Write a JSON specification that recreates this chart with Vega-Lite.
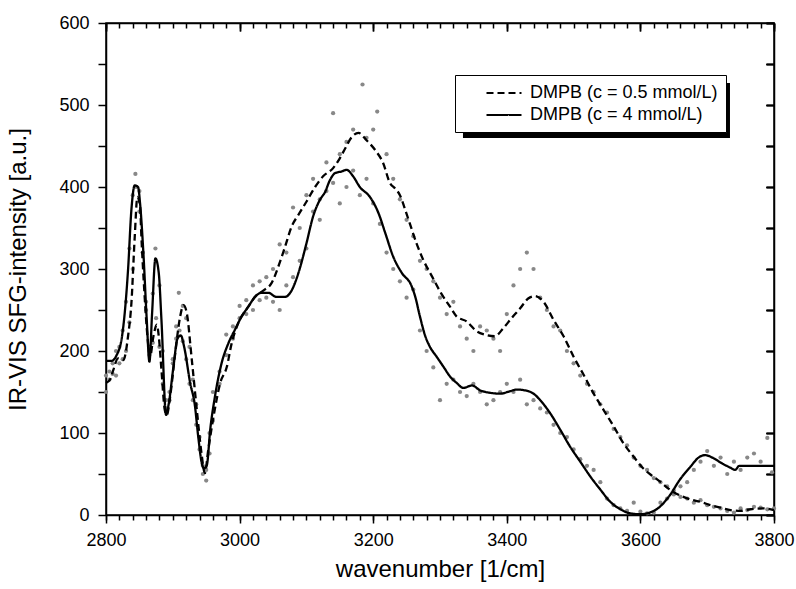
{
  "$schema": "https://vega.github.io/schema/vega-lite/v6.json",
  "width": 668,
  "height": 492,
  "autosize": {"type": "none"},
  "padding": {"left": 106, "top": 23, "right": 22, "bottom": 74},
  "background": "white",
  "config": {
    "view": {"stroke": "black", "strokeWidth": 1.5},
    "font": "Liberation Sans",
    "axis": {
      "domainColor": "black", "domainWidth": 1.5, "tickColor": "black", "tickWidth": 1.5,
      "labelFont": "Liberation Sans", "labelFontSize": 18, "labelColor": "black",
      "titleFont": "Liberation Sans", "titleFontSize": 24, "titleFontWeight": "normal", "titleColor": "black",
      "grid": false
    }
  },
  "data": {"values": [
      {"k":"L","x":2800,"y":188,"s":"4"},{"k":"L","x":2808,"y":188,"s":"4"},{"k":"L","x":2816,"y":195,"s":"4"},{"k":"L","x":2824,"y":218,"s":"4"},{"k":"L","x":2828,"y":246,"s":"4"},{"k":"L","x":2833,"y":299,"s":"4"},{"k":"L","x":2838,"y":372,"s":"4"},{"k":"L","x":2843,"y":402,"s":"4"},{"k":"L","x":2848,"y":400,"s":"4"},{"k":"L","x":2851,"y":380,"s":"4"},{"k":"L","x":2856,"y":319,"s":"4"},{"k":"L","x":2861,"y":238,"s":"4"},{"k":"L","x":2865,"y":187,"s":"4"},{"k":"L","x":2869,"y":246,"s":"4"},{"k":"L","x":2874,"y":313,"s":"4"},{"k":"L","x":2879,"y":295,"s":"4"},{"k":"L","x":2883,"y":238,"s":"4"},{"k":"L","x":2890,"y":122,"s":"4"},{"k":"L","x":2894,"y":136,"s":"4"},{"k":"L","x":2901,"y":181,"s":"4"},{"k":"L","x":2907,"y":215,"s":"4"},{"k":"L","x":2912,"y":219,"s":"4"},{"k":"L","x":2917,"y":205,"s":"4"},{"k":"L","x":2926,"y":161,"s":"4"},{"k":"L","x":2933,"y":134,"s":"4"},{"k":"L","x":2938,"y":96,"s":"4"},{"k":"L","x":2944,"y":61,"s":"4"},{"k":"L","x":2947,"y":57,"s":"4"},{"k":"L","x":2951,"y":61,"s":"4"},{"k":"L","x":2956,"y":104,"s":"4"},{"k":"L","x":2963,"y":144,"s":"4"},{"k":"L","x":2973,"y":185,"s":"4"},{"k":"L","x":2983,"y":209,"s":"4"},{"k":"L","x":2993,"y":226,"s":"4"},{"k":"L","x":3003,"y":242,"s":"4"},{"k":"L","x":3013,"y":254,"s":"4"},{"k":"L","x":3023,"y":266,"s":"4"},{"k":"L","x":3033,"y":271,"s":"4"},{"k":"L","x":3043,"y":271,"s":"4"},{"k":"L","x":3055,"y":266,"s":"4"},{"k":"L","x":3068,"y":266,"s":"4"},{"k":"L","x":3078,"y":274,"s":"4"},{"k":"L","x":3088,"y":295,"s":"4"},{"k":"L","x":3100,"y":331,"s":"4"},{"k":"L","x":3110,"y":364,"s":"4"},{"k":"L","x":3120,"y":384,"s":"4"},{"k":"L","x":3128,"y":394,"s":"4"},{"k":"L","x":3135,"y":408,"s":"4"},{"k":"L","x":3143,"y":417,"s":"4"},{"k":"L","x":3153,"y":419,"s":"4"},{"k":"L","x":3160,"y":421,"s":"4"},{"k":"L","x":3170,"y":413,"s":"4"},{"k":"L","x":3180,"y":400,"s":"4"},{"k":"L","x":3195,"y":388,"s":"4"},{"k":"L","x":3208,"y":368,"s":"4"},{"k":"L","x":3218,"y":344,"s":"4"},{"k":"L","x":3230,"y":315,"s":"4"},{"k":"L","x":3243,"y":295,"s":"4"},{"k":"L","x":3257,"y":280,"s":"4"},{"k":"L","x":3263,"y":266,"s":"4"},{"k":"L","x":3270,"y":242,"s":"4"},{"k":"L","x":3278,"y":218,"s":"4"},{"k":"L","x":3285,"y":205,"s":"4"},{"k":"L","x":3295,"y":193,"s":"4"},{"k":"L","x":3305,"y":181,"s":"4"},{"k":"L","x":3315,"y":169,"s":"4"},{"k":"L","x":3325,"y":161,"s":"4"},{"k":"L","x":3335,"y":155,"s":"4"},{"k":"L","x":3348,"y":158,"s":"4"},{"k":"L","x":3360,"y":152,"s":"4"},{"k":"L","x":3375,"y":149,"s":"4"},{"k":"L","x":3390,"y":148,"s":"4"},{"k":"L","x":3405,"y":151,"s":"4"},{"k":"L","x":3415,"y":153,"s":"4"},{"k":"L","x":3427,"y":152,"s":"4"},{"k":"L","x":3440,"y":148,"s":"4"},{"k":"L","x":3450,"y":140,"s":"4"},{"k":"L","x":3465,"y":124,"s":"4"},{"k":"L","x":3480,"y":104,"s":"4"},{"k":"L","x":3495,"y":83,"s":"4"},{"k":"L","x":3510,"y":65,"s":"4"},{"k":"L","x":3525,"y":47,"s":"4"},{"k":"L","x":3540,"y":31,"s":"4"},{"k":"L","x":3555,"y":16,"s":"4"},{"k":"L","x":3570,"y":7,"s":"4"},{"k":"L","x":3585,"y":2,"s":"4"},{"k":"L","x":3600,"y":1,"s":"4"},{"k":"L","x":3614,"y":3,"s":"4"},{"k":"L","x":3629,"y":10,"s":"4"},{"k":"L","x":3644,"y":24,"s":"4"},{"k":"L","x":3659,"y":43,"s":"4"},{"k":"L","x":3675,"y":59,"s":"4"},{"k":"L","x":3687,"y":70,"s":"4"},{"k":"L","x":3697,"y":73,"s":"4"},{"k":"L","x":3710,"y":69,"s":"4"},{"k":"L","x":3722,"y":63,"s":"4"},{"k":"L","x":3734,"y":58,"s":"4"},{"k":"L","x":3742,"y":55,"s":"4"},{"k":"L","x":3748,"y":60,"s":"4"},{"k":"L","x":3764,"y":60,"s":"4"},{"k":"L","x":3800,"y":60,"s":"4"},
      {"k":"L","x":2800,"y":161,"s":"0.5"},{"k":"L","x":2806,"y":165,"s":"0.5"},{"k":"L","x":2811,"y":177,"s":"0.5"},{"k":"L","x":2818,"y":191,"s":"0.5"},{"k":"L","x":2826,"y":189,"s":"0.5"},{"k":"L","x":2833,"y":218,"s":"0.5"},{"k":"L","x":2838,"y":258,"s":"0.5"},{"k":"L","x":2843,"y":339,"s":"0.5"},{"k":"L","x":2847,"y":388,"s":"0.5"},{"k":"L","x":2851,"y":376,"s":"0.5"},{"k":"L","x":2853,"y":339,"s":"0.5"},{"k":"L","x":2857,"y":278,"s":"0.5"},{"k":"L","x":2862,"y":218,"s":"0.5"},{"k":"L","x":2866,"y":193,"s":"0.5"},{"k":"L","x":2871,"y":218,"s":"0.5"},{"k":"L","x":2876,"y":232,"s":"0.5"},{"k":"L","x":2879,"y":218,"s":"0.5"},{"k":"L","x":2883,"y":177,"s":"0.5"},{"k":"L","x":2888,"y":128,"s":"0.5"},{"k":"L","x":2891,"y":122,"s":"0.5"},{"k":"L","x":2896,"y":144,"s":"0.5"},{"k":"L","x":2903,"y":193,"s":"0.5"},{"k":"L","x":2911,"y":242,"s":"0.5"},{"k":"L","x":2916,"y":256,"s":"0.5"},{"k":"L","x":2921,"y":246,"s":"0.5"},{"k":"L","x":2928,"y":193,"s":"0.5"},{"k":"L","x":2936,"y":128,"s":"0.5"},{"k":"L","x":2943,"y":75,"s":"0.5"},{"k":"L","x":2948,"y":51,"s":"0.5"},{"k":"L","x":2953,"y":79,"s":"0.5"},{"k":"L","x":2961,"y":120,"s":"0.5"},{"k":"L","x":2971,"y":161,"s":"0.5"},{"k":"L","x":2981,"y":181,"s":"0.5"},{"k":"L","x":2988,"y":209,"s":"0.5"},{"k":"L","x":2998,"y":234,"s":"0.5"},{"k":"L","x":3013,"y":254,"s":"0.5"},{"k":"L","x":3023,"y":266,"s":"0.5"},{"k":"L","x":3036,"y":274,"s":"0.5"},{"k":"L","x":3048,"y":283,"s":"0.5"},{"k":"L","x":3058,"y":303,"s":"0.5"},{"k":"L","x":3068,"y":327,"s":"0.5"},{"k":"L","x":3078,"y":352,"s":"0.5"},{"k":"L","x":3088,"y":366,"s":"0.5"},{"k":"L","x":3100,"y":382,"s":"0.5"},{"k":"L","x":3113,"y":400,"s":"0.5"},{"k":"L","x":3125,"y":413,"s":"0.5"},{"k":"L","x":3140,"y":423,"s":"0.5"},{"k":"L","x":3150,"y":435,"s":"0.5"},{"k":"L","x":3158,"y":447,"s":"0.5"},{"k":"L","x":3168,"y":461,"s":"0.5"},{"k":"L","x":3178,"y":466,"s":"0.5"},{"k":"L","x":3190,"y":457,"s":"0.5"},{"k":"L","x":3203,"y":445,"s":"0.5"},{"k":"L","x":3215,"y":429,"s":"0.5"},{"k":"L","x":3225,"y":405,"s":"0.5"},{"k":"L","x":3233,"y":398,"s":"0.5"},{"k":"L","x":3240,"y":390,"s":"0.5"},{"k":"L","x":3248,"y":372,"s":"0.5"},{"k":"L","x":3255,"y":355,"s":"0.5"},{"k":"L","x":3265,"y":331,"s":"0.5"},{"k":"L","x":3275,"y":311,"s":"0.5"},{"k":"L","x":3288,"y":291,"s":"0.5"},{"k":"L","x":3302,"y":270,"s":"0.5"},{"k":"L","x":3315,"y":254,"s":"0.5"},{"k":"L","x":3325,"y":242,"s":"0.5"},{"k":"L","x":3340,"y":236,"s":"0.5"},{"k":"L","x":3355,"y":224,"s":"0.5"},{"k":"L","x":3367,"y":220,"s":"0.5"},{"k":"L","x":3382,"y":218,"s":"0.5"},{"k":"L","x":3395,"y":228,"s":"0.5"},{"k":"L","x":3407,"y":240,"s":"0.5"},{"k":"L","x":3420,"y":252,"s":"0.5"},{"k":"L","x":3432,"y":264,"s":"0.5"},{"k":"L","x":3442,"y":267,"s":"0.5"},{"k":"L","x":3455,"y":260,"s":"0.5"},{"k":"L","x":3470,"y":238,"s":"0.5"},{"k":"L","x":3485,"y":218,"s":"0.5"},{"k":"L","x":3500,"y":193,"s":"0.5"},{"k":"L","x":3515,"y":171,"s":"0.5"},{"k":"L","x":3530,"y":148,"s":"0.5"},{"k":"L","x":3545,"y":128,"s":"0.5"},{"k":"L","x":3560,"y":108,"s":"0.5"},{"k":"L","x":3575,"y":87,"s":"0.5"},{"k":"L","x":3590,"y":71,"s":"0.5"},{"k":"L","x":3604,"y":57,"s":"0.5"},{"k":"L","x":3619,"y":47,"s":"0.5"},{"k":"L","x":3629,"y":41,"s":"0.5"},{"k":"L","x":3644,"y":31,"s":"0.5"},{"k":"L","x":3659,"y":24,"s":"0.5"},{"k":"L","x":3675,"y":19,"s":"0.5"},{"k":"L","x":3690,"y":16,"s":"0.5"},{"k":"L","x":3705,"y":12,"s":"0.5"},{"k":"L","x":3720,"y":9,"s":"0.5"},{"k":"L","x":3735,"y":6,"s":"0.5"},{"k":"L","x":3750,"y":5,"s":"0.5"},{"k":"L","x":3765,"y":7,"s":"0.5"},{"k":"L","x":3784,"y":8,"s":"0.5"},{"k":"L","x":3800,"y":6,"s":"0.5"},
      {"k":"P","x":2800,"y":150,"s":"0.5"},{"k":"P","x":2805,"y":165,"s":"0.5"},{"k":"P","x":2810,"y":172,"s":"0.5"},{"k":"P","x":2815,"y":170,"s":"0.5"},{"k":"P","x":2820,"y":185,"s":"0.5"},{"k":"P","x":2825,"y":190,"s":"0.5"},{"k":"P","x":2830,"y":200,"s":"0.5"},{"k":"P","x":2835,"y":235,"s":"0.5"},{"k":"P","x":2840,"y":300,"s":"0.5"},{"k":"P","x":2844,"y":416,"s":"0.5"},{"k":"P","x":2850,"y":370,"s":"0.5"},{"k":"P","x":2855,"y":320,"s":"0.5"},{"k":"P","x":2860,"y":250,"s":"0.5"},{"k":"P","x":2865,"y":195,"s":"0.5"},{"k":"P","x":2870,"y":210,"s":"0.5"},{"k":"P","x":2875,"y":240,"s":"0.5"},{"k":"P","x":2880,"y":205,"s":"0.5"},{"k":"P","x":2885,"y":160,"s":"0.5"},{"k":"P","x":2890,"y":140,"s":"0.5"},{"k":"P","x":2895,"y":150,"s":"0.5"},{"k":"P","x":2900,"y":185,"s":"0.5"},{"k":"P","x":2905,"y":230,"s":"0.5"},{"k":"P","x":2909,"y":271,"s":"0.5"},{"k":"P","x":2915,"y":255,"s":"0.5"},{"k":"P","x":2920,"y":240,"s":"0.5"},{"k":"P","x":2925,"y":205,"s":"0.5"},{"k":"P","x":2930,"y":165,"s":"0.5"},{"k":"P","x":2935,"y":135,"s":"0.5"},{"k":"P","x":2940,"y":95,"s":"0.5"},{"k":"P","x":2945,"y":60,"s":"0.5"},{"k":"P","x":2950,"y":42,"s":"0.5"},{"k":"P","x":2955,"y":75,"s":"0.5"},{"k":"P","x":2960,"y":115,"s":"0.5"},{"k":"P","x":2970,"y":160,"s":"0.5"},{"k":"P","x":2980,"y":195,"s":"0.5"},{"k":"P","x":2990,"y":215,"s":"0.5"},{"k":"P","x":3000,"y":240,"s":"0.5"},{"k":"P","x":3010,"y":262,"s":"0.5"},{"k":"P","x":3020,"y":250,"s":"0.5"},{"k":"P","x":3030,"y":285,"s":"0.5"},{"k":"P","x":3040,"y":265,"s":"0.5"},{"k":"P","x":3050,"y":300,"s":"0.5"},{"k":"P","x":3060,"y":330,"s":"0.5"},{"k":"P","x":3070,"y":320,"s":"0.5"},{"k":"P","x":3080,"y":375,"s":"0.5"},{"k":"P","x":3090,"y":350,"s":"0.5"},{"k":"P","x":3100,"y":390,"s":"0.5"},{"k":"P","x":3110,"y":410,"s":"0.5"},{"k":"P","x":3120,"y":385,"s":"0.5"},{"k":"P","x":3130,"y":430,"s":"0.5"},{"k":"P","x":3140,"y":490,"s":"0.5"},{"k":"P","x":3150,"y":440,"s":"0.5"},{"k":"P","x":3160,"y":455,"s":"0.5"},{"k":"P","x":3170,"y":470,"s":"0.5"},{"k":"P","x":3184,"y":525,"s":"0.5"},{"k":"P","x":3190,"y":460,"s":"0.5"},{"k":"P","x":3200,"y":470,"s":"0.5"},{"k":"P","x":3206,"y":492,"s":"0.5"},{"k":"P","x":3220,"y":440,"s":"0.5"},{"k":"P","x":3230,"y":410,"s":"0.5"},{"k":"P","x":3240,"y":385,"s":"0.5"},{"k":"P","x":3250,"y":360,"s":"0.5"},{"k":"P","x":3260,"y":340,"s":"0.5"},{"k":"P","x":3270,"y":310,"s":"0.5"},{"k":"P","x":3280,"y":300,"s":"0.5"},{"k":"P","x":3290,"y":285,"s":"0.5"},{"k":"P","x":3300,"y":265,"s":"0.5"},{"k":"P","x":3310,"y":245,"s":"0.5"},{"k":"P","x":3320,"y":260,"s":"0.5"},{"k":"P","x":3330,"y":230,"s":"0.5"},{"k":"P","x":3340,"y":215,"s":"0.5"},{"k":"P","x":3350,"y":200,"s":"0.5"},{"k":"P","x":3360,"y":230,"s":"0.5"},{"k":"P","x":3370,"y":225,"s":"0.5"},{"k":"P","x":3380,"y":215,"s":"0.5"},{"k":"P","x":3390,"y":200,"s":"0.5"},{"k":"P","x":3400,"y":245,"s":"0.5"},{"k":"P","x":3410,"y":280,"s":"0.5"},{"k":"P","x":3420,"y":300,"s":"0.5"},{"k":"P","x":3430,"y":320,"s":"0.5"},{"k":"P","x":3440,"y":300,"s":"0.5"},{"k":"P","x":3450,"y":265,"s":"0.5"},{"k":"P","x":3460,"y":250,"s":"0.5"},{"k":"P","x":3470,"y":230,"s":"0.5"},{"k":"P","x":3480,"y":225,"s":"0.5"},{"k":"P","x":3490,"y":200,"s":"0.5"},{"k":"P","x":3500,"y":185,"s":"0.5"},{"k":"P","x":3510,"y":170,"s":"0.5"},{"k":"P","x":3520,"y":160,"s":"0.5"},{"k":"P","x":3530,"y":150,"s":"0.5"},{"k":"P","x":3540,"y":135,"s":"0.5"},{"k":"P","x":3550,"y":125,"s":"0.5"},{"k":"P","x":3560,"y":105,"s":"0.5"},{"k":"P","x":3570,"y":95,"s":"0.5"},{"k":"P","x":3580,"y":85,"s":"0.5"},{"k":"P","x":3590,"y":70,"s":"0.5"},{"k":"P","x":3600,"y":60,"s":"0.5"},{"k":"P","x":3610,"y":55,"s":"0.5"},{"k":"P","x":3620,"y":45,"s":"0.5"},{"k":"P","x":3630,"y":40,"s":"0.5"},{"k":"P","x":3640,"y":35,"s":"0.5"},{"k":"P","x":3650,"y":25,"s":"0.5"},{"k":"P","x":3660,"y":22,"s":"0.5"},{"k":"P","x":3670,"y":20,"s":"0.5"},{"k":"P","x":3680,"y":15,"s":"0.5"},{"k":"P","x":3690,"y":18,"s":"0.5"},{"k":"P","x":3700,"y":12,"s":"0.5"},{"k":"P","x":3710,"y":10,"s":"0.5"},{"k":"P","x":3720,"y":8,"s":"0.5"},{"k":"P","x":3730,"y":5,"s":"0.5"},{"k":"P","x":3740,"y":3,"s":"0.5"},{"k":"P","x":3750,"y":8,"s":"0.5"},{"k":"P","x":3760,"y":6,"s":"0.5"},{"k":"P","x":3770,"y":10,"s":"0.5"},{"k":"P","x":3780,"y":9,"s":"0.5"},{"k":"P","x":3790,"y":7,"s":"0.5"},{"k":"P","x":3800,"y":8,"s":"0.5"},
      {"k":"P","x":2800,"y":170,"s":"4"},{"k":"P","x":2805,"y":175,"s":"4"},{"k":"P","x":2810,"y":185,"s":"4"},{"k":"P","x":2815,"y":200,"s":"4"},{"k":"P","x":2820,"y":205,"s":"4"},{"k":"P","x":2825,"y":225,"s":"4"},{"k":"P","x":2830,"y":260,"s":"4"},{"k":"P","x":2835,"y":325,"s":"4"},{"k":"P","x":2840,"y":390,"s":"4"},{"k":"P","x":2845,"y":400,"s":"4"},{"k":"P","x":2850,"y":395,"s":"4"},{"k":"P","x":2855,"y":320,"s":"4"},{"k":"P","x":2860,"y":260,"s":"4"},{"k":"P","x":2865,"y":205,"s":"4"},{"k":"P","x":2870,"y":270,"s":"4"},{"k":"P","x":2874,"y":325,"s":"4"},{"k":"P","x":2880,"y":280,"s":"4"},{"k":"P","x":2885,"y":200,"s":"4"},{"k":"P","x":2890,"y":130,"s":"4"},{"k":"P","x":2895,"y":140,"s":"4"},{"k":"P","x":2900,"y":190,"s":"4"},{"k":"P","x":2905,"y":215,"s":"4"},{"k":"P","x":2910,"y":225,"s":"4"},{"k":"P","x":2915,"y":212,"s":"4"},{"k":"P","x":2920,"y":190,"s":"4"},{"k":"P","x":2925,"y":160,"s":"4"},{"k":"P","x":2930,"y":140,"s":"4"},{"k":"P","x":2935,"y":110,"s":"4"},{"k":"P","x":2940,"y":80,"s":"4"},{"k":"P","x":2945,"y":50,"s":"4"},{"k":"P","x":2950,"y":55,"s":"4"},{"k":"P","x":2955,"y":100,"s":"4"},{"k":"P","x":2960,"y":150,"s":"4"},{"k":"P","x":2970,"y":175,"s":"4"},{"k":"P","x":2980,"y":220,"s":"4"},{"k":"P","x":2990,"y":230,"s":"4"},{"k":"P","x":3000,"y":255,"s":"4"},{"k":"P","x":3010,"y":245,"s":"4"},{"k":"P","x":3020,"y":280,"s":"4"},{"k":"P","x":3030,"y":262,"s":"4"},{"k":"P","x":3040,"y":290,"s":"4"},{"k":"P","x":3050,"y":260,"s":"4"},{"k":"P","x":3060,"y":250,"s":"4"},{"k":"P","x":3070,"y":280,"s":"4"},{"k":"P","x":3080,"y":290,"s":"4"},{"k":"P","x":3090,"y":310,"s":"4"},{"k":"P","x":3100,"y":325,"s":"4"},{"k":"P","x":3110,"y":370,"s":"4"},{"k":"P","x":3120,"y":360,"s":"4"},{"k":"P","x":3130,"y":395,"s":"4"},{"k":"P","x":3140,"y":405,"s":"4"},{"k":"P","x":3150,"y":380,"s":"4"},{"k":"P","x":3160,"y":400,"s":"4"},{"k":"P","x":3170,"y":420,"s":"4"},{"k":"P","x":3180,"y":390,"s":"4"},{"k":"P","x":3190,"y":410,"s":"4"},{"k":"P","x":3200,"y":380,"s":"4"},{"k":"P","x":3210,"y":355,"s":"4"},{"k":"P","x":3220,"y":320,"s":"4"},{"k":"P","x":3230,"y":300,"s":"4"},{"k":"P","x":3240,"y":285,"s":"4"},{"k":"P","x":3250,"y":265,"s":"4"},{"k":"P","x":3260,"y":275,"s":"4"},{"k":"P","x":3270,"y":225,"s":"4"},{"k":"P","x":3280,"y":200,"s":"4"},{"k":"P","x":3290,"y":180,"s":"4"},{"k":"P","x":3300,"y":140,"s":"4"},{"k":"P","x":3310,"y":160,"s":"4"},{"k":"P","x":3320,"y":165,"s":"4"},{"k":"P","x":3330,"y":150,"s":"4"},{"k":"P","x":3340,"y":145,"s":"4"},{"k":"P","x":3350,"y":160,"s":"4"},{"k":"P","x":3360,"y":150,"s":"4"},{"k":"P","x":3370,"y":135,"s":"4"},{"k":"P","x":3380,"y":140,"s":"4"},{"k":"P","x":3390,"y":150,"s":"4"},{"k":"P","x":3400,"y":160,"s":"4"},{"k":"P","x":3410,"y":150,"s":"4"},{"k":"P","x":3420,"y":165,"s":"4"},{"k":"P","x":3430,"y":135,"s":"4"},{"k":"P","x":3440,"y":140,"s":"4"},{"k":"P","x":3450,"y":130,"s":"4"},{"k":"P","x":3460,"y":125,"s":"4"},{"k":"P","x":3470,"y":110,"s":"4"},{"k":"P","x":3480,"y":100,"s":"4"},{"k":"P","x":3490,"y":95,"s":"4"},{"k":"P","x":3500,"y":80,"s":"4"},{"k":"P","x":3510,"y":68,"s":"4"},{"k":"P","x":3520,"y":60,"s":"4"},{"k":"P","x":3530,"y":55,"s":"4"},{"k":"P","x":3540,"y":40,"s":"4"},{"k":"P","x":3550,"y":20,"s":"4"},{"k":"P","x":3560,"y":12,"s":"4"},{"k":"P","x":3570,"y":8,"s":"4"},{"k":"P","x":3580,"y":5,"s":"4"},{"k":"P","x":3590,"y":15,"s":"4"},{"k":"P","x":3600,"y":4,"s":"4"},{"k":"P","x":3610,"y":2,"s":"4"},{"k":"P","x":3620,"y":3,"s":"4"},{"k":"P","x":3630,"y":15,"s":"4"},{"k":"P","x":3640,"y":20,"s":"4"},{"k":"P","x":3650,"y":30,"s":"4"},{"k":"P","x":3660,"y":35,"s":"4"},{"k":"P","x":3670,"y":40,"s":"4"},{"k":"P","x":3680,"y":55,"s":"4"},{"k":"P","x":3690,"y":65,"s":"4"},{"k":"P","x":3700,"y":78,"s":"4"},{"k":"P","x":3710,"y":60,"s":"4"},{"k":"P","x":3720,"y":70,"s":"4"},{"k":"P","x":3730,"y":50,"s":"4"},{"k":"P","x":3740,"y":65,"s":"4"},{"k":"P","x":3750,"y":55,"s":"4"},{"k":"P","x":3760,"y":70,"s":"4"},{"k":"P","x":3770,"y":75,"s":"4"},{"k":"P","x":3780,"y":65,"s":"4"},{"k":"P","x":3790,"y":94,"s":"4"},{"k":"P","x":3797,"y":52,"s":"4"}
  ]},
  "layer": [
    {
      "transform": [{"filter": "datum.k === 'P'"}],
      "mark": {"type": "point", "filled": true, "color": "#888888", "opacity": 1, "size": 18},
      "encoding": {
        "x": {"field": "x", "type": "quantitative",
          "scale": {"domain": [2800, 3800], "nice": false, "zero": false},
          "axis": {"orient": "bottom", "title": "wavenumber [1/cm]",
            "values": [2800, 3000, 3200, 3400, 3600, 3800], "format": "d",
            "tickSize": 8, "labelPadding": 8, "labelFlush": false, "labelOverlap": false, "titlePadding": 8}},
        "y": {"field": "y", "type": "quantitative",
          "scale": {"domain": [0, 600], "nice": false},
          "axis": {"orient": "left", "title": "IR-VIS SFG-intensity [a.u.]",
            "values": [0,50,100,150,200,250,300,350,400,450,500,550,600],
            "labelExpr": "datum.value % 100 === 0 ? datum.label : ''",
            "tickSize": 8, "labelPadding": 9, "labelOverlap": false, "titlePadding": 28}}
      }
    },
    {
      "transform": [{"filter": "datum.k === 'P'"}],
      "mark": {"type": "point", "opacity": 0},
      "encoding": {
        "x": {"field": "x", "type": "quantitative", "title": "",
          "axis": {"orient": "bottom", "labelExpr": "''", "domain": false,
            "values": [2800,2820,2840,2860,2880,2900,2920,2940,2960,2980,3000,3020,3040,3060,3080,3100,3120,3140,3160,3180,3200,3220,3240,3260,3280,3300,3320,3340,3360,3380,3400,3420,3440,3460,3480,3500,3520,3540,3560,3580,3600,3620,3640,3660,3680,3700,3720,3740,3760,3780,3800],
            "tickSize": 5}},
        "y": {"field": "y", "type": "quantitative", "title": "",
          "axis": {"orient": "right", "labelExpr": "''",
            "values": [0,50,100,150,200,250,300,350,400,450,500,550,600], "tickSize": -8}}
      }
    },
    {
      "transform": [{"filter": "datum.k === 'P'"}],
      "mark": {"type": "point", "opacity": 0},
      "encoding": {
        "x": {"field": "x", "type": "quantitative", "title": "",
          "axis": {"orient": "top", "labelExpr": "''", "domain": false,
            "values": [2800,2820,2840,2860,2880,2900,2920,2940,2960,2980,3000,3020,3040,3060,3080,3100,3120,3140,3160,3180,3200,3220,3240,3260,3280,3300,3320,3340,3360,3380,3400,3420,3440,3460,3480,3500,3520,3540,3560,3580,3600,3620,3640,3660,3680,3700,3720,3740,3760,3780,3800],
            "tickSize": -5}},
        "y": {"field": "y", "type": "quantitative", "title": "",
          "axis": {"orient": "right", "labelExpr": "''", "domain": false,
            "values": [0,50,100,150,200,250,300,350,400,450,500,550,600], "tickSize": -8}}
      }
    },
    {
      "transform": [{"filter": "datum.k === 'L' && datum.x === 2800 && datum.s === '4'"}],
      "mark": {"type": "rect", "color": "black"},
      "encoding": {
        "x": {"datum": 3334.4, "type": "quantitative",
          "axis": {"orient": "top", "title": "", "labelExpr": "''", "domain": false,
            "values": [2800, 3000, 3200, 3400, 3600, 3800], "tickSize": -8}},
        "x2": {"datum": 3734.1},
        "y": {"datum": 526.8, "type": "quantitative",
          "axis": {"orient": "right", "title": "", "labelExpr": "''", "domain": false,
            "values": [0,50,100,150,200,250,300,350,400,450,500,550,600], "tickSize": -8}},
        "y2": {"datum": 459.8}
      }
    },
    {
      "transform": [{"filter": "datum.k === 'L'"}],
      "mark": {"type": "line", "color": "black", "strokeWidth": 2.3, "interpolate": "monotone"},
      "encoding": {
        "x": {"field": "x", "type": "quantitative", "title": "",
          "axis": {"orient": "top", "labelExpr": "''",
            "values": [2800, 3000, 3200, 3400, 3600, 3800], "tickSize": -8}},
        "y": {"field": "y", "type": "quantitative", "title": "",
          "axis": {"orient": "right", "labelExpr": "''", "domain": false,
            "values": [0,50,100,150,200,250,300,350,400,450,500,550,600], "tickSize": -8}},
        "strokeDash": {"field": "s", "type": "nominal",
          "scale": {"domain": ["0.5", "4"], "range": [[7, 4], [1, 0]]},
          "legend": {"orient": "none", "legendX": 349, "legendY": 52, "title": null,
            "strokeColor": "black", "fillColor": "white", "padding": 8,
            "labelFont": "Liberation Sans", "labelFontSize": 18, "labelColor": "black", "labelLimit": 500,
            "labelExpr": "'DMPB (c = ' + datum.label + ' mmol/L)'",
            "symbolType": "M-2,0H2", "symbolSize": 306, "symbolStrokeWidth": 2, "symbolStrokeColor": "black",
            "symbolOffset": 31, "labelOffset": 16, "rowPadding": 3}}
      }
    }
  ],
  "resolve": {"axis": {"x": "independent", "y": "independent"}}
}
